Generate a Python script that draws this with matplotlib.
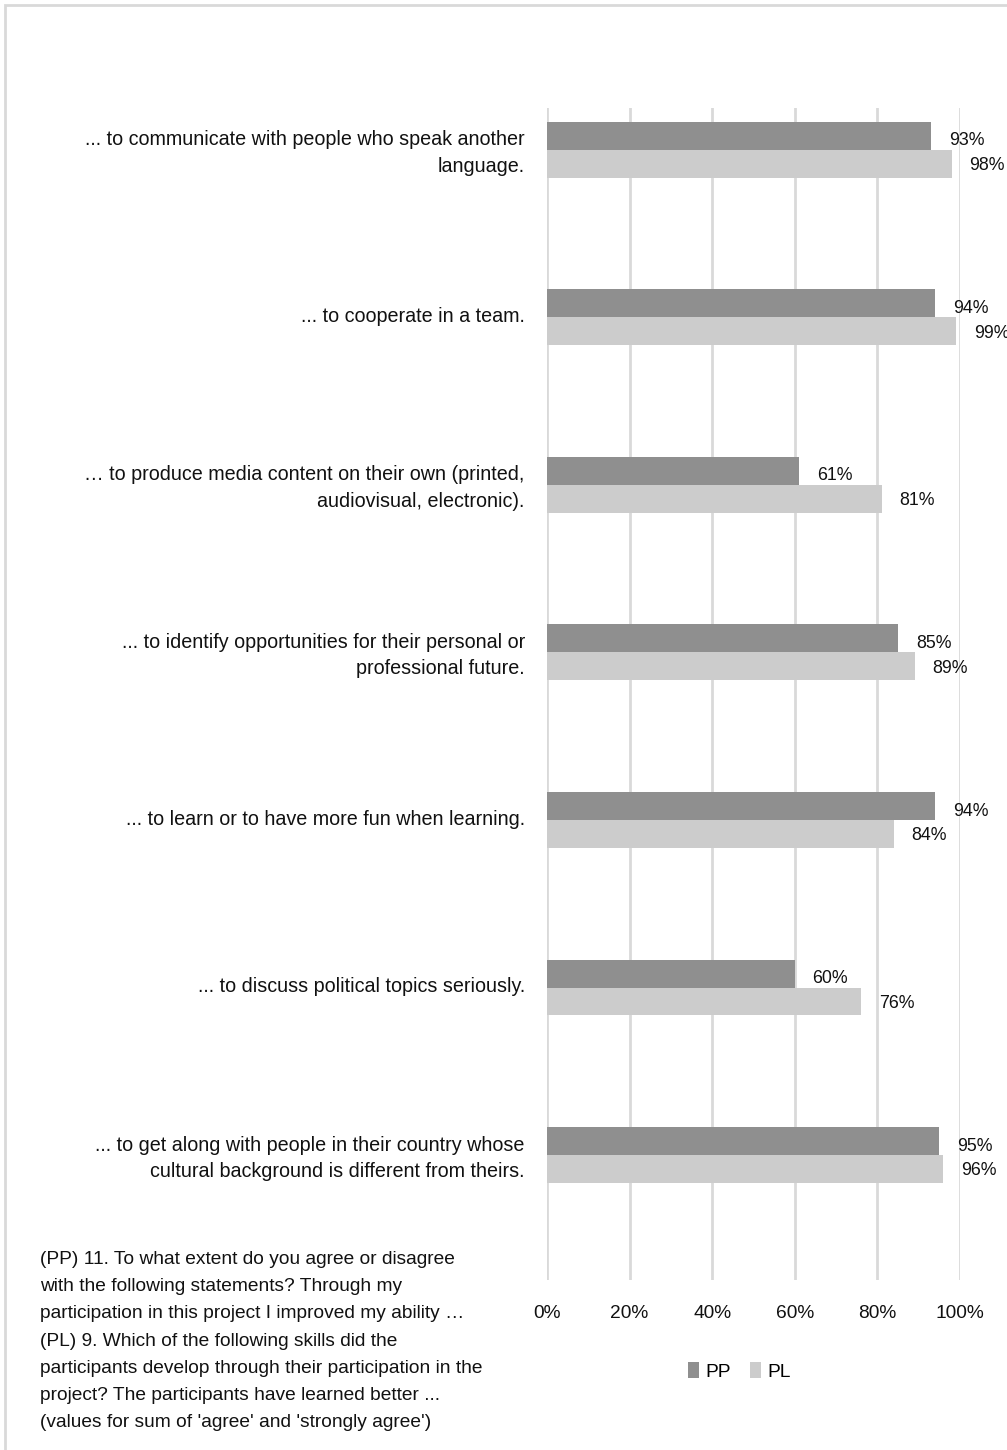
import matplotlib.pyplot as plt
from matplotlib.patches import Rectangle

plt.rcParams['font.family'] = ['Liberation Sans', 'DejaVu Sans']

# skills asked about (top to bottom)
categories = [
    "... to communicate with people who speak another\nlanguage.",
    "... to cooperate in a team.",
    "\u2026 to produce media content on their own (printed,\naudiovisual, electronic).",
    "... to identify opportunities for their personal or\nprofessional future.",
    "... to learn or to have more fun when learning.",
    "... to discuss political topics seriously.",
    "... to get along with people in their country whose\ncultural background is different from theirs.",
]
# share agreeing (agree + strongly agree)
pp_values = [0.93, 0.94, 0.61, 0.85, 0.94, 0.60, 0.95]
pl_values = [0.98, 0.99, 0.81, 0.89, 0.84, 0.76, 0.96]
series_names = ["PP", "PL"]
x_ticks = [0, 0.2, 0.4, 0.6, 0.8, 1.0]
x_tick_labels = ["0%", "20%", "40%", "60%", "80%", "100%"]

footnote = ("(PP) 11. To what extent do you agree or disagree\n"
            "with the following statements? Through my\n"
            "participation in this project I improved my ability \u2026\n"
            "(PL) 9. Which of the following skills did the\n"
            "participants develop through their participation in the\n"
            "project? The participants have learned better ...\n"
            "(values for sum of 'agree' and 'strongly agree')")

W, H = 1007, 1450
fig = plt.figure(figsize=(W / 100, H / 100), dpi=100)

# light frame round the chart (runs off the right and bottom edges)
fig.patches.append(Rectangle((5 / W, -0.01), 1.1, 1 - 5 / H + 0.01,
                             transform=fig.transFigure, fill=False,
                             edgecolor='#d9d9d9', linewidth=2))

ax = fig.add_axes([547 / W, 1 - 1280 / H, (960 - 547) / W, (1280 - 108) / H])

bar_h = 0.167
pos = list(range(len(categories)))
pp_pos = [p - bar_h / 2 for p in pos]
pl_pos = [p + bar_h / 2 for p in pos]
ax.barh(pp_pos, pp_values, height=bar_h, color='#8f8f8f', label=series_names[0], zorder=3)
ax.barh(pl_pos, pl_values, height=bar_h, color='#cccccc', label=series_names[1], zorder=3)

for y, v in zip(pp_pos, pp_values):
    ax.text(v + 0.043, y + 0.03, f"{round(v * 100)}%", va='center', ha='left', fontsize=12.8, color='#111111')
for y, v in zip(pl_pos, pl_values):
    ax.text(v + 0.043, y + 0.01, f"{round(v * 100)}%", va='center', ha='left', fontsize=12.8, color='#111111')

ax.set_xlim(0, 1)
ax.set_ylim(6.746, -0.25)
ax.set_xticks(x_ticks)
ax.set_xticklabels(x_tick_labels, fontsize=13.8)
ax.set_yticks([p - 0.015 for p in pos])
ax.set_yticklabels(categories, fontsize=14.2, linespacing=1.5)
ax.tick_params(axis='both', length=0, colors='#111111')
ax.tick_params(axis='y', pad=16)
ax.tick_params(axis='x', pad=18)
ax.grid(axis='x', color='#d9d9d9', linewidth=2, zorder=0)
for s in ax.spines.values():
    s.set_visible(False)

ax.legend(loc='center', bbox_to_anchor=(0.465, -0.078), ncol=2, frameon=False,
          fontsize=13.8, handlelength=0.6, handleheight=0.9, handletextpad=0.3,
          columnspacing=1.0)

fig.text(40 / W, 1 - 1341 / H, footnote, ha='left', va='center', fontsize=13.8,
         linespacing=1.78, color='#111111')

fig.savefig('out.png', dpi=100)
